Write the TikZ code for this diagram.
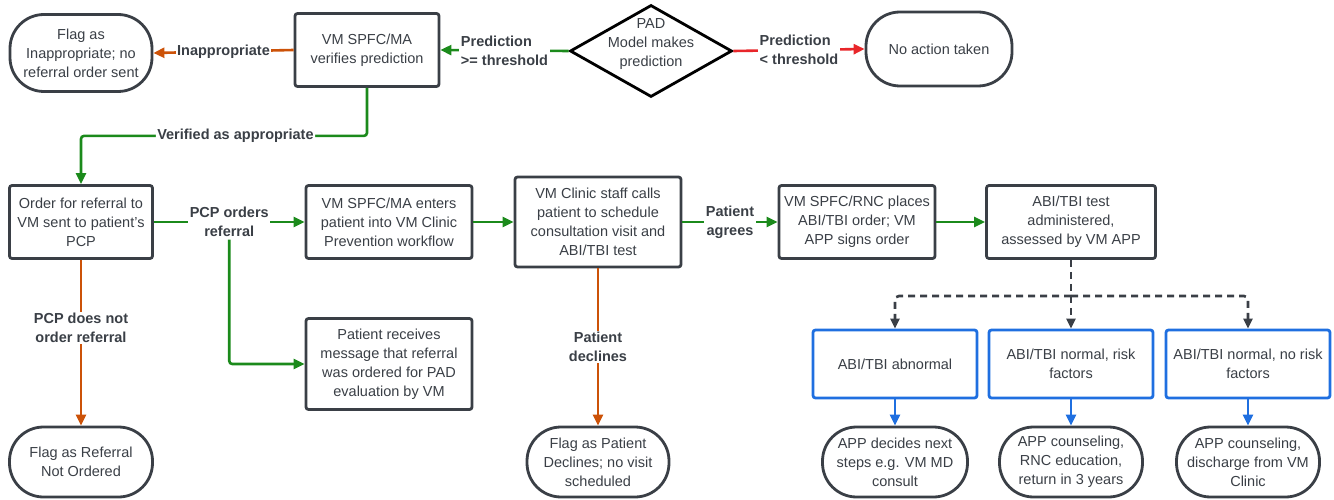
\documentclass[tikz,border=0pt]{standalone}
\usepackage{fontspec}
\setmainfont{Liberation Sans}
\usetikzlibrary{arrows.meta, positioning, shapes.geometric}

\definecolor{ink}{HTML}{3A3F46}
\definecolor{flowgreen}{HTML}{1B8A1B}
\definecolor{floworange}{HTML}{CC5208}
\definecolor{flowred}{HTML}{E8262A}
\definecolor{flowblue}{HTML}{1F6FE0}

\begin{document}
\begin{tikzpicture}[x=1pt, y=-1pt,
  every node/.style={font=\fontsize{14.5}{19}\selectfont, text=ink, align=center},
  box/.style={rectangle, draw=ink, line width=2.8pt, rounded corners=2.5pt, fill=white, inner xsep=2pt, minimum height=73pt},
  endbox/.style={rectangle, draw=ink, line width=2.8pt, rounded corners=34pt, fill=white, inner xsep=1pt, minimum height=70pt},
  bluebox/.style={rectangle, draw=flowblue, line width=2.8pt, rounded corners=2.5pt, fill=white, inner xsep=2pt, minimum width=164pt, minimum height=68pt},
  lbl/.style={font=\fontsize{14.5}{19}\selectfont\bfseries, fill=white, inner sep=1.5pt},
  flow/.style={line width=2.6pt, -{Triangle[length=11pt, width=10pt]}},
  dashflow/.style={draw=ink, line width=2.6pt, dash pattern=on 7pt off 5pt, -{Triangle[length=10pt, width=9pt]}}]
  \useasboundingbox (0,0) rectangle (1334,500);

  % top row
  \node[endbox, minimum width=142pt, minimum height=77pt] (flaginap) at (81,53) {Flag as\\Inappropriate; no\\referral order sent};
  \node[box, minimum width=144pt] (verify) at (367,50) {VM SPFC/MA\\verifies prediction};
  \node[diamond, draw=black, line width=2.8pt, fill=white, minimum width=162pt, minimum height=92pt, inner sep=0pt] (pad) at (651,51) {};
  \node (padtext) at (651,44) {PAD\\Model makes\\prediction};
  \node[endbox, minimum width=146pt, minimum height=74pt] (noaction) at (939,49) {No action taken};

  % middle row
  \node[box, minimum width=143pt] (order) at (81,222) {Order for referral to\\VM sent to patient's\\PCP};
  \node[box, minimum width=166pt] (enter) at (389,222) {VM SPFC/MA enters\\patient into VM Clinic\\Prevention workflow};
  \node[box, minimum width=166pt, minimum height=90pt] (calls) at (598,222) {VM Clinic staff calls\\patient to schedule\\consultation visit and\\ABI/TBI test};
  \node[box, minimum width=156pt] (rnc) at (857,222) {VM SPFC/RNC places\\ABI/TBI order; VM\\APP signs order};
  \node[box, minimum width=169pt] (test) at (1071,222) {ABI/TBI test\\administered,\\assessed by VM APP};
  \node[box, minimum width=166pt, minimum height=91pt] (receives) at (389,364) {Patient receives\\message that referral\\was ordered for PAD\\evaluation by VM};

  % results
  \node[bluebox] (abn) at (895,364) {ABI/TBI abnormal};
  \node[bluebox] (nrf) at (1071,364) {ABI/TBI normal, risk\\factors};
  \node[bluebox] (nnrf) at (1248,364) {ABI/TBI normal, no risk\\factors};

  % bottom row
  \node[endbox, minimum width=143pt] (flagref) at (81,462) {Flag as Referral\\Not Ordered};
  \node[endbox, minimum width=142pt] (flagdec) at (598,462) {Flag as Patient\\Declines; no visit\\scheduled};
  \node[endbox, minimum width=145pt] (app1) at (895,462) {APP decides next\\steps e.g. VM MD\\consult};
  \node[endbox, minimum width=143pt] (app2) at (1071,462) {APP counseling,\\RNC education,\\return in 3 years};
  \node[endbox, minimum width=143pt] (app3) at (1248,462) {APP counseling,\\discharge from VM\\Clinic};

  % connectors
  \draw[flow, flowgreen] (pad.west) -- node[lbl, align=left] {Prediction\\>= threshold} (verify.east);
  \draw[flow, flowred] (pad.east) -- node[lbl, align=left] {Prediction\\< threshold} (noaction.west);
  \draw[flow, floworange] (verify.west) -- node[lbl] {Inappropriate} (flaginap.east);
  \draw[flow, flowgreen, rounded corners=3pt] (verify.south) -- ++(0,48) -| node[lbl, pos=0.23] {Verified as appropriate} (order.north);
  \draw[flow, flowgreen] (order.east) -- node[lbl] (pcplbl) {PCP orders\\referral} (enter.west);
  \draw[flow, flowgreen, rounded corners=3pt] (pcplbl.south) |- (receives.west);
  \draw[flow, floworange] (order.south) -- node[lbl, pos=0.41] {PCP does not\\order referral} (flagref.north);
  \draw[flow, flowgreen] (enter.east) -- (calls.west);
  \draw[flow, flowgreen] (calls.east) -- node[lbl] {Patient\\agrees} (rnc.west);
  \draw[flow, floworange] (calls.south) -- node[lbl] {Patient\\declines} (flagdec.north);
  \draw[flow, flowgreen] (rnc.east) -- (test.west);

  \coordinate (split) at (1071,296);
  \draw[dashflow] (test.south) -- (split) -- (nrf.north);
  \draw[dashflow, rounded corners=4pt] (split) -| (abn.north);
  \draw[dashflow, rounded corners=4pt] (split) -| (nnrf.north);

  \draw[flow, flowblue] (abn.south) -- (app1.north);
  \draw[flow, flowblue] (nrf.south) -- (app2.north);
  \draw[flow, flowblue] (nnrf.south) -- (app3.north);
\end{tikzpicture}
\end{document}
